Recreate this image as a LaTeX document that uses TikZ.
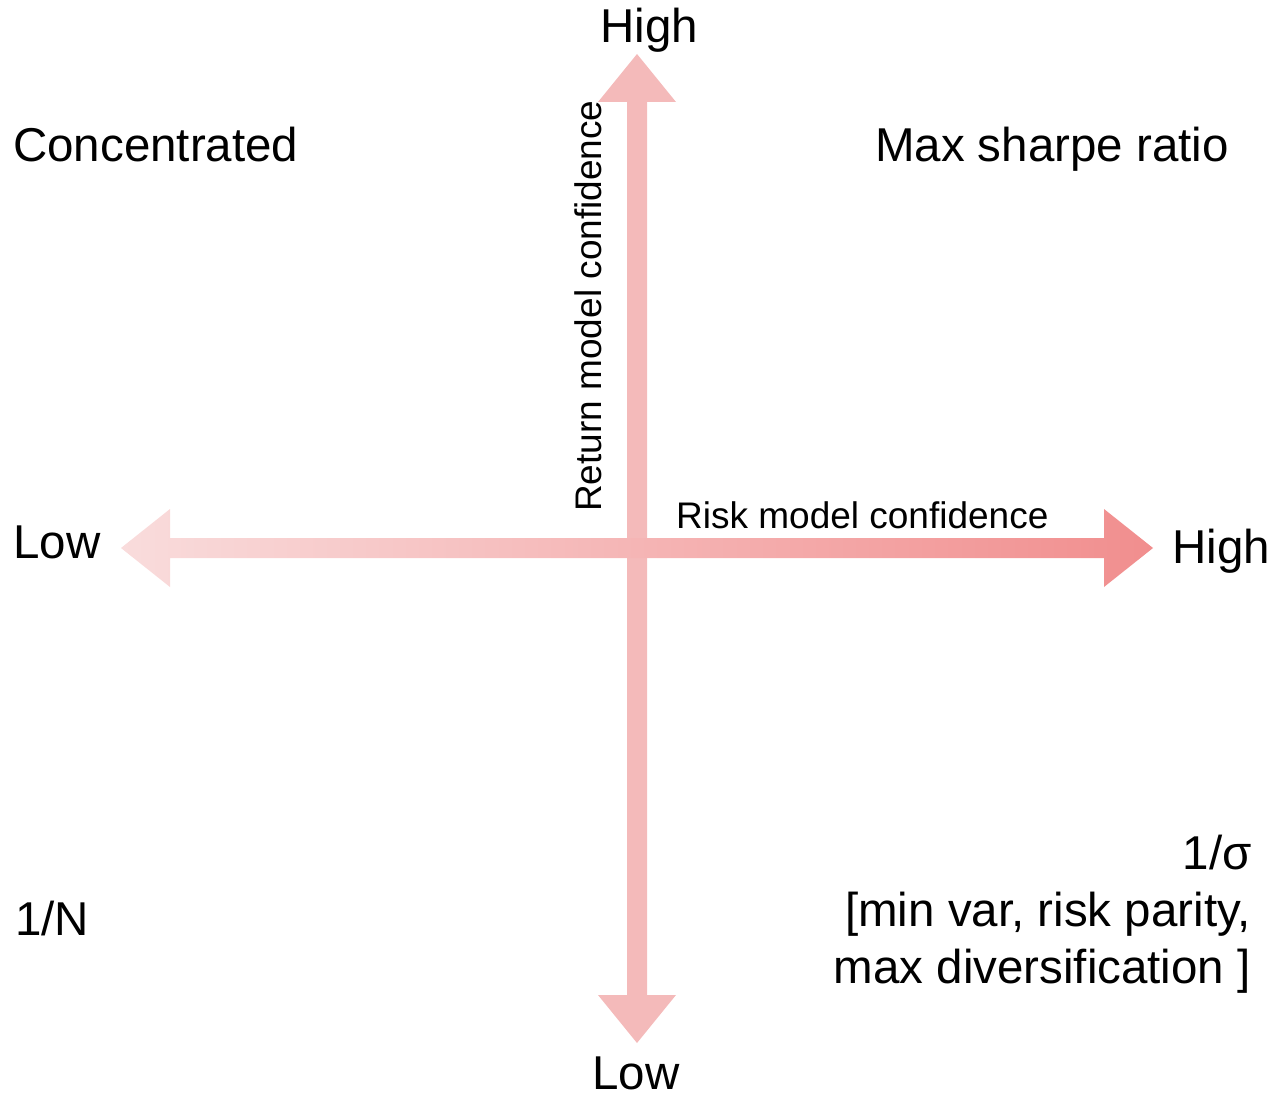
\documentclass[tikz,border=0pt]{standalone}
\usepackage{fontspec}
\setmainfont{Liberation Sans}
\definecolor{vcol}{HTML}{F4BABA}
\definecolor{hleft}{HTML}{F9DCDC}
\definecolor{hright}{HTML}{F18E8E}
\begin{document}
\begin{tikzpicture}[x=1pt,y=-1pt,
  big/.style={font=\fontsize{47.5}{56}\selectfont, inner sep=0pt},
  small/.style={font=\fontsize{37}{44}\selectfont, inner sep=0pt}]
\useasboundingbox (0,0) rectangle (1272,1097);
% vertical double arrow
\fill[vcol] (627,102) -- (598,102) -- (637,54) -- (676,102) -- (647,102)
  -- (647,995) -- (676,995) -- (637,1043) -- (598,995) -- (627,995) -- cycle;
% horizontal double arrow with gradient
\shade[left color=hleft, right color=hright] (170,538) -- (170,509) -- (121,548)
  -- (170,587) -- (170,558) -- (1104,558) -- (1104,587) -- (1153,548)
  -- (1104,509) -- (1104,538) -- cycle;
% labels
\node[big, anchor=base] (hightop) at (649,43) {High};
\node[big, anchor=base] (lowbot) at (636,1089) {Low};
\node[big, anchor=base west] (lowleft) at (13,558) {Low};
\node[big, anchor=base west] (highright) at (1172,563) {High};
\node[big, anchor=base west] (conc) at (13,162) {Concentrated};
\node[big, anchor=base east] (maxsr) at (1229,162) {Max sharpe ratio};
\node[big, anchor=base west] (oneN) at (15,935) {1/N};
\node[big, anchor=base east] (sig1) at (1252,869) {1/σ};
\node[big, anchor=base east] (sig2) at (1251,926) {[min var, risk parity,};
\node[big, anchor=base east] (sig3) at (1251,983) {max diversification ]};
\node[small, anchor=base west] (riskl) at (676,528) {Risk model confidence};
\node[small, anchor=base west, rotate=90] (retl) at (601,512) {Return model confidence};
\end{tikzpicture}
\end{document}
